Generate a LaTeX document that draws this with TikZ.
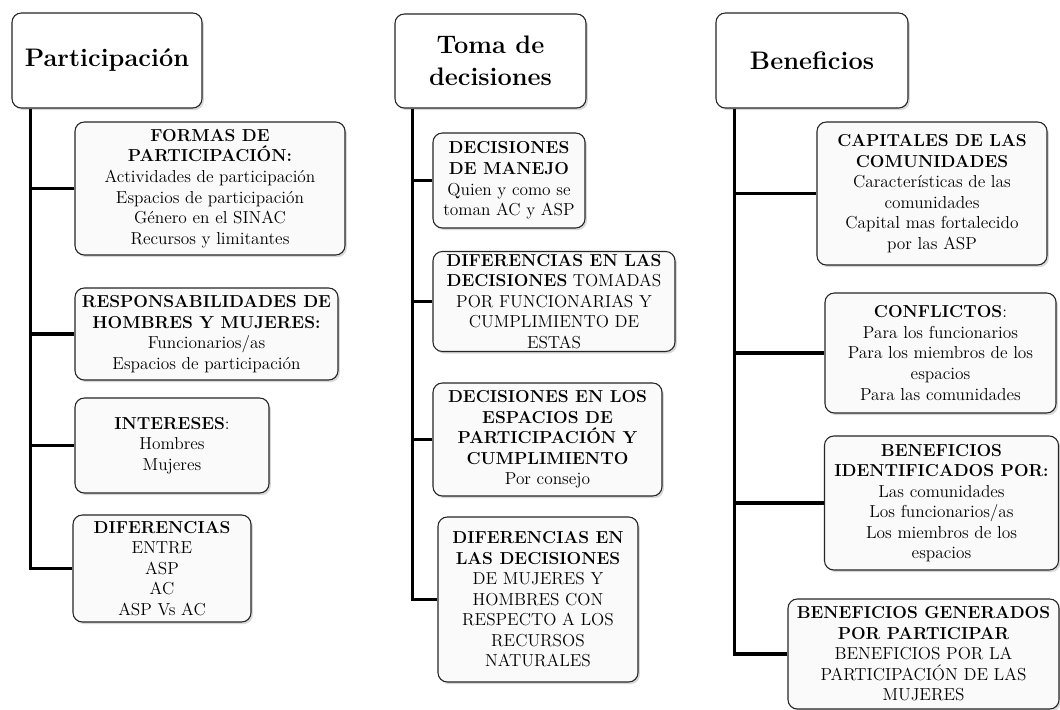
\documentclass[tikz,border=0pt]{standalone}
\usepackage{xcolor}
\usepackage{tikz}
\usetikzlibrary{positioning,shadows}
\newdimen\pxu \pxu=0.75pt

\begin{document}
\begin{tikzpicture}[
  x=0.75pt, y=-0.75pt,
  base/.style={draw=black!85, line width=0.8pt, rounded corners=7pt, align=center,
    inner sep=2pt, drop shadow={opacity=0.3, shadow xshift=1.4pt, shadow yshift=-1.6pt}},
  head/.style={base, fill=white, font=\fontsize{19}{24}\selectfont\bfseries},
  sub/.style={base, fill=black!2, font=\fontsize{13}{15.4}\selectfont},
  link/.style={line width=2.5pt, black}
]
  \fill[white] (0,0) rectangle (1060,710);
  \useasboundingbox (0,0) rectangle (1060,710);

  % Participacion
  \node[head, minimum width=190\pxu, minimum height=95\pxu] (part) at (107,60.5) {Participación};
  \node[sub, minimum width=270\pxu, minimum height=133\pxu] (formas) at (210,188.5)
    {\textbf{FORMAS DE}\\\textbf{PARTICIPACIÓN:}\\Actividades de participación\\Espacios de participación\\Género en el SINAC\\Recursos y limitantes};
  \node[sub, minimum width=263\pxu, minimum height=92\pxu] (resp) at (206.5,334)
    {\textbf{RESPONSABILIDADES DE}\\\textbf{HOMBRES Y MUJERES:}\\Funcionarios/as\\Espacios de participación};
  \node[sub, minimum width=194\pxu, minimum height=95\pxu] (inter) at (172,445.5)
    {\textbf{INTERESES}:\\Hombres\\Mujeres};
  \node[sub, minimum width=178\pxu, minimum height=107\pxu] (difer) at (162,568.5)
    {\textbf{DIFERENCIAS}\\ENTRE\\ASP\\AC\\ASP Vs AC};
  \coordinate (t1) at ([xshift=19\pxu]part.south west);
  \foreach \b in {formas,resp,inter,difer}
    \draw[link] (t1) |- (\b.west);

  % Toma de decisiones
  \node[head, minimum width=191\pxu, minimum height=94\pxu] (toma) at (490.5,61) {Toma de\\decisiones};
  \node[sub, minimum width=152\pxu, minimum height=95\pxu] (manejo) at (509,180.5)
    {\textbf{DECISIONES}\\\textbf{DE MANEJO}\\Quien y como se\\toman AC y ASP};
  \node[sub, minimum width=242\pxu, minimum height=97\pxu] (funcio) at (554,301.5)
    {\textbf{DIFERENCIAS EN LAS}\\\textbf{DECISIONES} TOMADAS\\POR FUNCIONARIAS Y\\CUMPLIMIENTO DE\\ESTAS};
  \node[sub, minimum width=229\pxu, minimum height=113\pxu] (espac) at (547.5,439.5)
    {\textbf{DECISIONES EN LOS}\\\textbf{ESPACIOS DE}\\\textbf{PARTICIPACIÓN Y}\\\textbf{CUMPLIMIENTO}\\Por consejo};
  \node[sub, minimum width=200\pxu, minimum height=165\pxu] (mujer) at (538,599.5)
    {\textbf{DIFERENCIAS EN}\\\textbf{LAS DECISIONES}\\DE MUJERES Y\\HOMBRES CON\\RESPECTO A LOS\\RECURSOS\\NATURALES};
  \coordinate (t2) at ([xshift=18\pxu]toma.south west);
  \foreach \b in {manejo,funcio,espac,mujer}
    \draw[link] (t2) |- (\b.west);

  % Beneficios
  \node[head, minimum width=192\pxu, minimum height=95\pxu] (bene) at (812,60.5) {Beneficios};
  \node[sub, minimum width=230\pxu, minimum height=143\pxu] (capit) at (932,193.5)
    {\textbf{CAPITALES DE LAS}\\\textbf{COMUNIDADES}\\Características de las\\comunidades\\Capital mas fortalecido\\por las ASP};
  \node[sub, minimum width=231\pxu, minimum height=120\pxu] (confl) at (940.5,353)
    {\textbf{CONFLICTOS}:\\Para los funcionarios\\Para los miembros de los\\espacios\\Para las comunidades};
  \node[sub, minimum width=234\pxu, minimum height=134\pxu] (ident) at (941.5,503)
    {\textbf{BENEFICIOS}\\\textbf{IDENTIFICADOS POR:}\\Las comunidades\\Los funcionarios/as\\Los miembros de los\\espacios};
  \node[sub, minimum width=271\pxu, minimum height=110\pxu] (gener) at (923.5,654)
    {\textbf{BENEFICIOS GENERADOS}\\\textbf{POR PARTICIPAR}\\BENEFICIOS POR LA\\PARTICIPACIÓN DE LAS\\MUJERES};
  \coordinate (t3) at ([xshift=19\pxu]bene.south west);
  \foreach \b in {capit,confl,ident,gener}
    \draw[link] (t3) |- (\b.west);
\end{tikzpicture}
\end{document}
